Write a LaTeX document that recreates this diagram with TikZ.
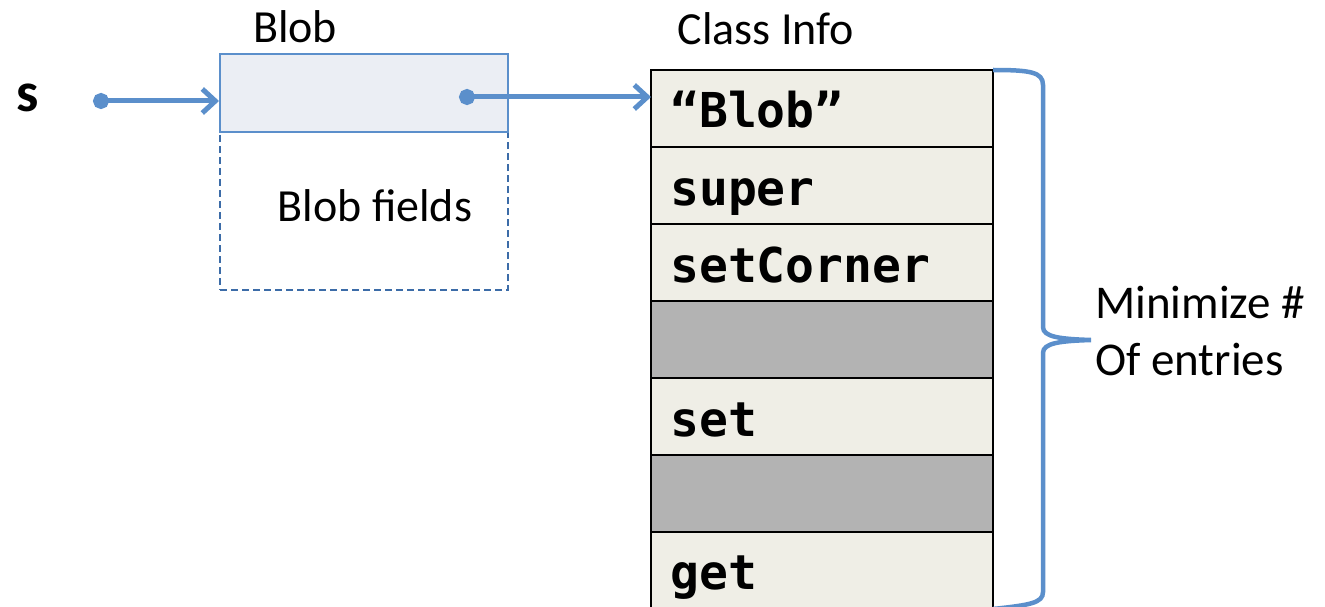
\documentclass[tikz,border=0pt]{standalone}
\usepackage{fontspec}
\setmainfont{Carlito}
\newfontfamily\codefont{DejaVu Sans Mono}
\usetikzlibrary{arrows.meta}
\definecolor{linkblue}{RGB}{91,143,203}
\definecolor{objfill}{RGB}{235,238,244}
\definecolor{dashblue}{RGB}{60,108,168}
\definecolor{slotfill}{RGB}{239,238,230}
\definecolor{emptyslot}{RGB}{179,179,179}
\tikzset{
  pointer/.style={draw=linkblue, line width=5pt, {Circle[length=16pt]}-{Straight Barb[length=13pt,width=24pt,line width=5pt]}},
  slot/.style={draw=black, line width=2.5pt, fill=slotfill, minimum width=342pt, minimum height=77pt, anchor=north west, inner sep=0pt, outer sep=0pt},
  gap/.style={slot, fill=emptyslot},
  code/.style={font=\codefont\bfseries\fontsize{48}{50}\selectfont, anchor=base west, inner sep=0pt},
  label/.style={font=\fontsize{46}{50}\selectfont, inner sep=0pt, anchor=base},
}
\begin{document}
\begin{tikzpicture}[x=1pt,y=-1pt]
\useasboundingbox (0,0) rectangle (1325,607);

% variable s and the object it refers to
\node[font=\bfseries\fontsize{56}{60}\selectfont, inner sep=0pt, anchor=base] (s) at (28,112) {s};
\coordinate (sdot) at (93,101);
\node[label] (blobtitle) at (295,43) {Blob};
\node[draw=dashblue, line width=2pt, dashed, dash pattern=on 7pt off 4pt, minimum width=288pt, minimum height=158pt, anchor=north west, inner sep=0pt] (fields) at (219,131) {};
\node[draw=linkblue, line width=2pt, fill=objfill, minimum width=288pt, minimum height=78pt, anchor=north west, inner sep=0pt] (blob) at (219,53) {};
\node[label] (fieldtext) at (375,221) {Blob fields};
\coordinate (bdot) at (459,97);

% class info table
\node[label] (classtitle) at (766,45) {Class Info};
\node[slot] (r1) at (651,70) {};
\node[slot] (r2) at (651,147) {};
\node[slot] (r3) at (651,224) {};
\node[gap]  (r4) at (651,301) {};
\node[slot] (r5) at (651,378) {};
\node[gap]  (r6) at (651,455) {};
\node[slot] (r7) at (651,532) {};
\node[code] (t1) at (670,128) {“Blob”};
\node[code] (t2) at (670,205) {super};
\node[code] (t3) at (670,282) {setCorner};
\node[code] (t5) at (670,436) {set};
\node[code] (t7) at (670,589) {get};

% pointers
\draw[pointer] (sdot) -- (blob.west |- sdot);
\draw[pointer] (bdot) -- (r1.west |- bdot);

% brace over the table entries
\draw[linkblue, line width=4.5pt]
  (r1.north east) .. controls (1030,70) and (1043,72) .. (1043,85)
  -- (1043,327) .. controls (1043,337) and (1060,339) .. (1091,340)
  .. controls (1060,341) and (1043,343) .. (1043,353)
  -- (1043,592) .. controls (1043,603) and (1030,605) .. (r7.south east);
\node[font=\fontsize{47}{57}\selectfont, inner sep=0pt, anchor=base west, align=left] (note) at (1095,375) {Minimize \#\\Of entries};
\end{tikzpicture}
\end{document}
